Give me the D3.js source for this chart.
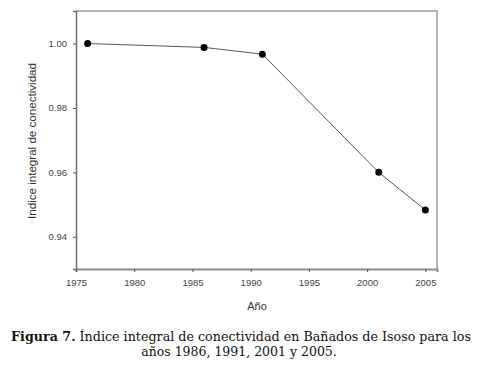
<!DOCTYPE html>
<html>
<head>
<meta charset="utf-8">
<script src="https://cdn.jsdelivr.net/npm/d3@7"></script>
<style>
	body { margin: 0; background: #fff; }
	svg { display: block; }
</style>
</head>
<body>
<div id="chart"></div>
<script>
// Data
const years = [1976, 1986, 1991, 2001, 2005]
const indexValues = [1.0, 0.9988, 0.9967, 0.96, 0.9483]
const xTicks = [1975, 1980, 1985, 1990, 1995, 2000, 2005]
const yTicks = [0.94, 0.96, 0.98, 1.0]

const W = 480
const H = 371
const margin = { top: 11, right: 43, bottom: 102, left: 76 }
const width = W - margin.left - margin.right
const height = H - margin.top - margin.bottom

const svg = d3
	.select("#chart")
	.append("svg")
	.attr("width", W)
	.attr("height", H)

const g = svg
	.append("g")
	.attr("transform", `translate(${margin.left},${margin.top})`)

const xScale = d3.scaleLinear().domain([1975, 2006]).range([0, width])
const yScale = d3.scaleLinear().domain([0.93, 1.0101]).range([height, 0])

// Frame: light top/right edges
g.append("path")
	.attr("d", `M0,0H${width}V${height}`)
	.attr("fill", "none")
	.attr("stroke", "#b4b4b4")
	.attr("stroke-width", 2)

// Axes
const xAxis = g
	.append("g")
	.attr("class", "x-axis")
	.attr("transform", `translate(0,${height})`)
	.call(
		d3.axisBottom(xScale)
			.tickValues(xTicks)
			.tickFormat(d3.format("d"))
			.tickSize(3)
			.tickPadding(7)
	)

const yAxis = g
	.append("g")
	.attr("class", "y-axis")
	.call(
		d3.axisLeft(yScale)
			.tickValues(yTicks)
			.tickFormat(d3.format(".2f"))
			.tickSize(3)
			.tickPadding(6)
	)

xAxis.select(".domain").attr("stroke", "#8c8c8c").attr("stroke-width", 2)
yAxis.select(".domain").attr("stroke", "#6e6e6e").attr("stroke-width", 1.5)
g.selectAll(".tick line").attr("stroke", "#555")
g.selectAll(".tick text")
	.attr("fill", "#444")
	.style("font-family", "Liberation Sans, Arial, sans-serif")
	.style("font-size", "9.5px")

// Line
const points = years.map((y, i) => ({ year: y, value: indexValues[i] }))
const line = d3
	.line()
	.x((d) => xScale(d.year))
	.y((d) => yScale(d.value))

g.append("path")
	.datum(points)
	.attr("fill", "none")
	.attr("stroke", "#555")
	.attr("stroke-width", 1)
	.attr("d", line)

g.selectAll(".dot")
	.data(points)
	.enter()
	.append("circle")
	.attr("class", "dot")
	.attr("cx", (d) => xScale(d.year))
	.attr("cy", (d) => yScale(d.value))
	.attr("r", 3.5)
	.attr("fill", "#000")

// Axis titles
g.append("text")
	.attr("transform", `translate(-40,${height / 2 + 1}) rotate(-90)`)
	.attr("text-anchor", "middle")
	.attr("fill", "#333")
	.style("font-family", "Liberation Sans, Arial, sans-serif")
	.style("font-size", "11.6px")
	.text("Indice integral de conectividad")

g.append("text")
	.attr("x", 181)
	.attr("y", height + 41)
	.attr("text-anchor", "middle")
	.attr("fill", "#333")
	.style("font-family", "Liberation Sans, Arial, sans-serif")
	.style("font-size", "11px")
	.text("Año")

// Caption
const caption = svg
	.append("text")
	.attr("x", 241)
	.attr("y", 341)
	.attr("text-anchor", "middle")
	.attr("fill", "#111")
	.style("font-family", "DejaVu Serif, serif")
	.style("font-size", "12.7px")

caption.append("tspan").attr("font-weight", "bold").text("Figura 7.")
caption.append("tspan").text(" Índice integral de conectividad en Bañados de Isoso para los")

svg.append("text")
	.attr("x", 239)
	.attr("y", 356)
	.attr("text-anchor", "middle")
	.attr("fill", "#111")
	.style("font-family", "DejaVu Serif, serif")
	.style("font-size", "12.5px")
	.text("años 1986, 1991, 2001 y 2005.")
</script>
</body>
</html>
